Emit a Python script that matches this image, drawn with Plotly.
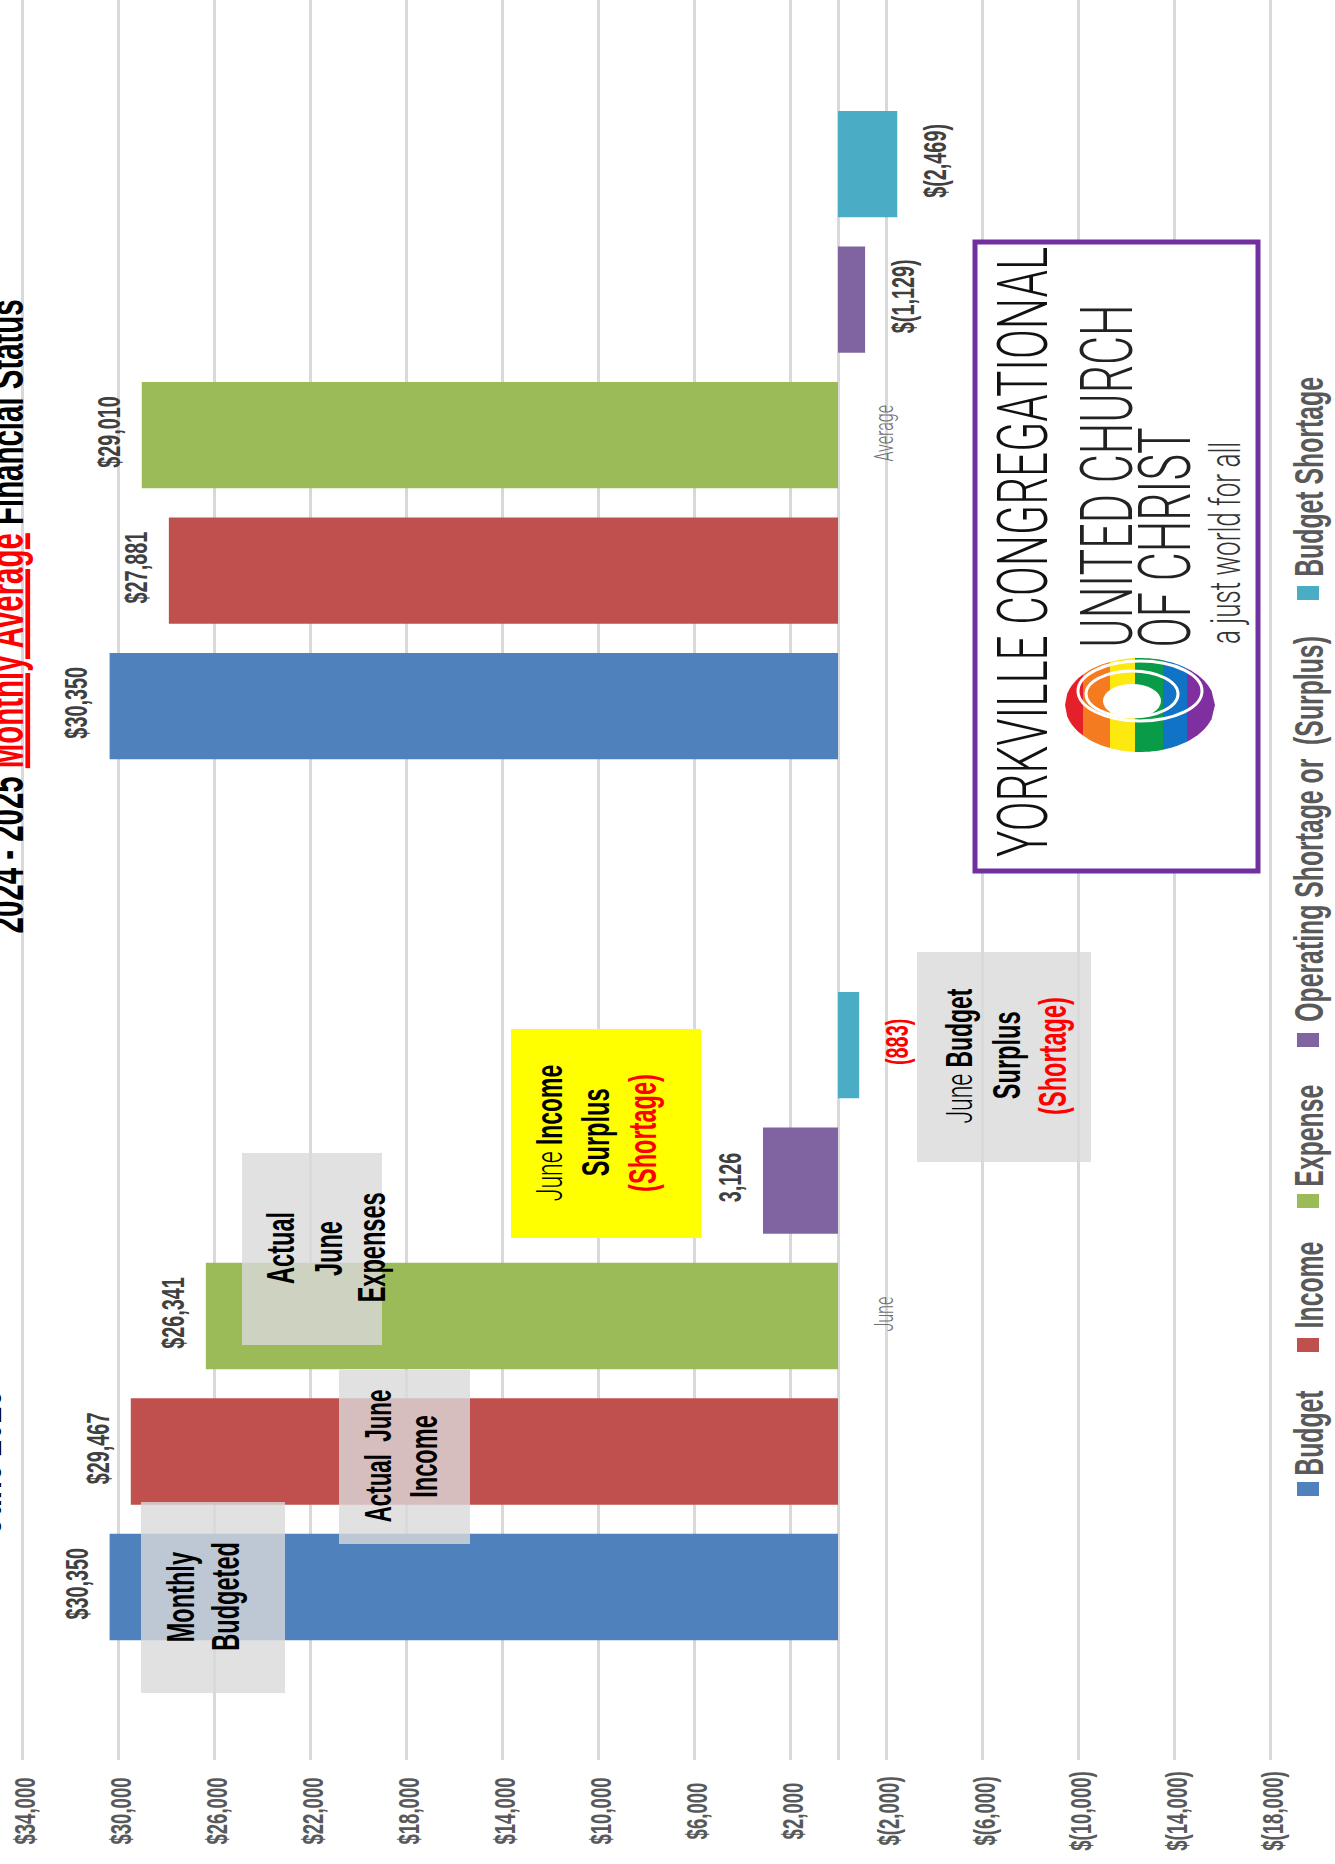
import math
import plotly.graph_objects as go

W, H = 1335, 1864
PLOT_R, PLOT_B = 1305, 1760
FONT = "Liberation Sans"
THIN = "Roboto"
SQUEEZE = 0.62
TICK_CENTER_Y = 1811

categories = ["June", "Average"]
series_names = ["Budget", "Income", "Expense", "Operating Shortage or  (Surplus)", "Budget Shortage"]
series_colors = ["#4f81bd", "#c0504d", "#9bbb59", "#8064a2", "#4bacc6"]
budget = [30350, 30350]
income = [29467, 27881]
expense = [26341, 29010]
operating = [3126, -1129]
shortage = [-883, -2469]
june_labels = ["$30,350", "$29,467", "$26,341", "3,126", "(883)"]
average_labels = ["$30,350", "$27,881", "$29,010", "$(1,129)", "$(2,469)"]
tick_values = [34000, 30000, 26000, 22000, 18000, 14000, 10000, 6000, 2000,
               -2000, -6000, -10000, -14000, -18000]
tick_labels = ["$34,000", "$30,000", "$26,000", "$22,000", "$18,000", "$14,000", "$10,000", "$6,000", "$2,000",
               "$(2,000)", "$(6,000)", "$(10,000)", "$(14,000)", "$(18,000)"]

series_values = [budget, income, expense, operating, shortage]

PX_PER_DOLLAR = 96.0 / 4000
ZERO_PX = 838
BARGAP = 0.231


def fx(px):
    return px / PLOT_R


def fy(px):
    return 1 - px / PLOT_B


fig = go.Figure()
for name, vals, col in zip(series_names, series_values, series_colors):
    fig.add_trace(go.Bar(y=categories, x=vals, name=name, orientation="h",
                         marker=dict(color=col, line=dict(width=0)), showlegend=False))

annotations = []
shapes = []


def text(px, py, s, size, color="#000000", bold=False, family=FONT, weight=None):
    font = dict(family=family, size=size, color=color)
    if weight:
        font["weight"] = weight
    annotations.append(dict(xref="paper", yref="paper", x=fx(px), y=fy(py), text=f"<b>{s}</b>" if bold else s,
                            textangle=-90, showarrow=False, xanchor="center", yanchor="middle", font=font))


def box(x0, y0, x1, y1, fill, line=None, lw=0):
    shapes.append(dict(type="rect", xref="paper", yref="paper", x0=fx(x0), x1=fx(x1), y0=fy(y0), y1=fy(y1),
                       fillcolor=fill, line=dict(width=lw, color=line or "rgba(0,0,0,0)"), layer="above"))


# data labels
slot = (1 - BARGAP) / 5
for c, labels in enumerate([june_labels, average_labels]):
    for i, lab in enumerate(labels):
        v = series_values[i][c]
        red = lab == "(883)"
        annotations.append(dict(xref="x", yref="y", x=v, y=c + (i - 2) * slot, xshift=-33 if v > 0 else 38,
                                text=f"<b>{lab}</b>", textangle=-90, showarrow=False,
                                font=dict(family=FONT, size=32, color="#ff0000" if red else "#404040")))

# callout boxes
GREY = "rgba(217,217,217,0.8)"
box(141, 1502, 285, 1693, GREY)
box(339, 1370, 470, 1544, GREY)
box(242, 1153, 382, 1345, GREY)
box(511, 1029, 701, 1238, "#ffff00")
box(917, 952, 1091, 1162, GREY)

THIN_JUNE = '<span style="font-family:Roboto;font-weight:300">June</span>'
text(181, 1600, "Monthly", 38, bold=True)
text(226, 1600, "Budgeted", 38, bold=True)
text(378, 1459, "Actual  June", 36, bold=True)
text(424, 1459, "Income", 38, bold=True)
text(281, 1251, "Actual", 38, bold=True)
text(329, 1251, "June", 38, bold=True)
text(372, 1251, "Expenses", 38, bold=True)
text(549, 1136, THIN_JUNE + " <b>Income</b>", 37)
text(596, 1136, "Surplus", 38, bold=True)
text(643, 1136, "(Shortage)", 38, "#ff0000", bold=True)
text(959, 1059, THIN_JUNE + " <b>Budget</b>", 37)
text(1007, 1059, "Surplus", 38, bold=True)
text(1053, 1059, "(Shortage)", 38, "#ff0000", bold=True)

# title fragments cut by the page edge
text(6, 620, ('<b>2024 - 2025 <span style="color:#ff0000"><u>Monthly Average</u></span> '
              'Financial Status</b>'), 47.5)
text(-16, 1465, "<b>June 2025</b>", 48)

# legend
legend_swatch_y = [1489, 1345, 1201, 1040, 593]
legend_text_y = [1436, 1288, 1139, 832, 480]
for name, col, yc, yt in zip(series_names, series_colors, legend_swatch_y, legend_text_y):
    box(1297, yc - 7, 1319, yc + 7, col)
    text(1309, yt, f"<b>{name}</b>", 40, "#595959")

# logo
box(975, 242, 1258, 871, "#ffffff", "#7030a0", 5)
text(1022, 555, "YORKVILLE CONGREGATIONAL", 71, "#111111", family=THIN, weight=300)
text(1107, 479, "UNITED CHURCH", 72, "#222222", family=THIN, weight=300)
text(1165, 541, "OF CHRIST", 72, "#222222", family=THIN, weight=300)
text(1225, 546, "a just world for all", 42, "#333333", family=THIN, weight=300)

CX, CY, RX, RY = 1140, 705, 75, 47
bands = [(1065, 1083, "#e5202a"), (1083, 1110, "#f47b20"), (1110, 1135, "#fde910"),
         (1135, 1163, "#0a9b48"), (1163, 1187, "#1173c5"), (1187, 1215, "#7f2f9f")]


def ell(x):
    return RY * math.sqrt(max(0.0, 1 - ((x - CX) / RX) ** 2))


for a, b, col in bands:
    xs = [a + (b - a) * t / 8 for t in range(9)]
    top = [(x, CY - ell(x)) for x in xs]
    bot = [(x, CY + ell(x)) for x in reversed(xs)]
    path = "M " + " L ".join(f"{fx(x):.5f},{fy(y):.5f}" for x, y in top + bot) + " Z"
    shapes.append(dict(type="path", xref="paper", yref="paper", path=path, fillcolor=col,
                       line=dict(width=0), layer="above"))


def ellipse_shape(cx, cy, rx, ry, fill, lw=0):
    shapes.append(dict(type="circle", xref="paper", yref="paper", x0=fx(cx - rx), x1=fx(cx + rx),
                       y0=fy(cy - ry), y1=fy(cy + ry), fillcolor=fill,
                       line=dict(width=lw, color="#ffffff"), layer="above"))


ellipse_shape(1140, 691, 62, 30, "rgba(0,0,0,0)", 3)
ellipse_shape(1132, 694, 46, 23, "rgba(0,0,0,0)", 3)
ellipse_shape(1132, 701, 29, 17, "#ffffff")

fig.update_layout(
    width=W, height=H,
    margin=dict(l=0, r=W - PLOT_R, t=0, b=H - PLOT_B, pad=0, autoexpand=False),
    paper_bgcolor="#ffffff", plot_bgcolor="#ffffff",
    barmode="group", bargap=BARGAP, bargroupgap=0.215,
    showlegend=False,
    annotations=annotations, shapes=shapes,
    xaxis=dict(range=[ZERO_PX / PX_PER_DOLLAR, (ZERO_PX - PLOT_R) / PX_PER_DOLLAR],
               tickmode="array", tickvals=tick_values, ticktext=tick_labels, tickangle=-90,
               tickfont=dict(family=FONT, size=30, color="#595959", weight=700),
               ticks="outside", ticklen=16, tickcolor="rgba(0,0,0,0)",
               showgrid=True, gridcolor="#d9d9d9", gridwidth=3,
               zeroline=True, zerolinecolor="#d9d9d9", zerolinewidth=3,
               showline=False),
    yaxis=dict(type="category", categoryorder="array", categoryarray=categories,
               range=[-0.504, 1.494], anchor="free", position=ZERO_PX / PLOT_R, side="right",
               tickangle=-90, tickfont=dict(family=THIN, size=26, color="#6f6f6f", weight=300),
               ticks="outside", ticklen=23, tickcolor="rgba(0,0,0,0)",
               showgrid=False, zeroline=False, showline=False),
)

# The reference text is set tall and condensed along its reading direction.
post_script = """
document.body.style.margin = '0';
(function () {
  var S = %s, TICK_Y = %s;
  function squeeze(el, targetY, dx) {
    var r = el.getBoundingClientRect();
    var m = el.parentNode.getScreenCTM();
    var cy = (r.top + r.height / 2 - m.f) / m.d;
    var ty = targetY === null ? cy : (targetY - m.f) / m.d;
    var t0 = el.getAttribute('transform') || '';
    el.setAttribute('transform', 'translate(' + dx + ',' + ty + ') scale(1,' + S + ') translate(0,' + (-cy) + ') ' + t0);
  }
  document.querySelectorAll('g.annotation').forEach(function (el) {
    var r = el.getBoundingClientRect();
    squeeze(el, r.top + r.height / 2 - 3, 0);
  });
  document.querySelectorAll('.xtick text').forEach(function (el) { squeeze(el, TICK_Y, 3); });
  document.querySelectorAll('.ytick text').forEach(function (el) {
    var r = el.getBoundingClientRect();
    squeeze(el, r.top + r.height / 2 + 2, 0);
  });
})();
""" % (SQUEEZE, TICK_CENTER_Y)

fig.write_html("out.html", post_script=post_script, config={"displayModeBar": False})
